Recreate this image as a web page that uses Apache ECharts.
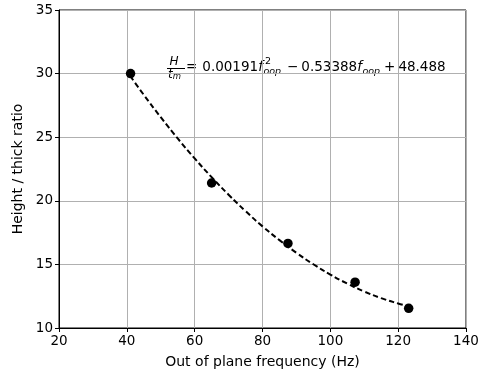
<!DOCTYPE html>
<html>
<head>
    <meta charset="UTF-8">
    <title>Height / thick ratio</title>
    <script src="https://cdn.jsdelivr.net/npm/echarts@6/dist/echarts.min.js"></script>
    <style>
        html, body { margin: 0; padding: 0; background: #fff; }
        #main { width: 485px; height: 376px; }
    </style>
</head>
<body>
    <div id="main"></div>
    <script type="text/javascript">
        // measured points
        var freqs = [41.1, 65.0, 87.5, 107.3, 123.1];
        var ratios = [30.0, 21.4, 16.65, 13.6, 11.55];

        // dashed fit curve
        var fitFreqs = [41, 45, 50, 55, 60, 65, 70, 75, 80, 85, 90, 95, 100, 105, 110, 115, 120, 123];
        var fitRatios = [29.81, 28.33, 26.57, 24.90, 23.33, 21.86, 20.48, 19.19, 17.99, 16.91, 15.91, 15.01, 14.20, 13.49, 12.87, 12.35, 11.93, 11.72];

        var xTicks = [20, 40, 60, 80, 100, 120, 140];
        var yTicks = [10, 15, 20, 25, 30, 35];

        var FONT = '"DejaVu Sans", sans-serif';

        var pts = [];
        for (var i = 0; i < freqs.length; i++) pts.push([freqs[i], ratios[i]]);
        var fit = [];
        for (var j = 0; j < fitFreqs.length; j++) fit.push([fitFreqs[j], fitRatios[j]]);

        // equation label, laid out piece by piece
        var cv = document.createElement('canvas').getContext('2d');
        function w(txt, font) { cv.font = font; return cv.measureText(txt).width; }
        var eq = [];
        function piece(txt, x, y, size, italic) {
            var f = (italic ? 'italic ' : '') + size + 'px ' + FONT;
            eq.push({
                type: 'text', silent: true,
                style: { text: txt, x: x, y: y, font: f, fill: '#000', align: 'left', verticalAlign: 'middle' }
            });
            return w(txt, f);
        }
        var cx = 167, midY = 67;
        // fraction H / t_m
        eq.push({ type: 'line', silent: true, shape: { x1: cx, y1: 68.5, x2: cx + 18, y2: 68.5 }, style: { stroke: '#000', lineWidth: 1 } });
        piece('H', cx + 2.5, 61.5, 12, true);
        var tw = piece('t', cx + 1, 74.5, 12, true);
        piece('m', cx + 1 + tw, 77, 8.5, true);
        cx += 19;
        cx += piece('=', cx, midY, 13.5, false) + 5;
        cx += piece('0.00191', cx, midY, 13.5, false);
        cx += piece('f', cx, midY, 13.5, true) + 0.5;
        piece('2', cx + 1.5, 61.5, 9.5, false);
        cx += piece('oop', cx, 71.5, 9.5, true) + 6;
        cx += piece('\u2212', cx, midY, 13.5, false) + 3;
        cx += piece('0.53388', cx, midY, 13.5, false);
        cx += piece('f', cx, midY, 13.5, true) + 0.5;
        cx += piece('oop', cx, 71.5, 9.5, true) + 4;
        cx += piece('+', cx, midY, 13.5, false) + 3;
        piece('48.488', cx, midY, 13.5, false);

        var myChart = echarts.init(document.getElementById('main'));

        var option = {
            animation: false,
            backgroundColor: '#fff',
            grid: {
                left: 59, right: 19, top: 10, bottom: 48,
                show: true, borderColor: '#000', borderWidth: 1
            },
            xAxis: {
                type: 'value',
                min: xTicks[0], max: xTicks[xTicks.length - 1], interval: 20,
                name: 'Out of plane frequency (Hz)',
                nameLocation: 'middle', nameGap: 27,
                nameTextStyle: { fontFamily: FONT, fontSize: 14, color: '#000' },
                axisLine: { lineStyle: { color: '#000', width: 1 } },
                axisTick: { show: true, length: 4, lineStyle: { color: '#000' } },
                axisLabel: { fontFamily: FONT, fontSize: 13.5, color: '#000', margin: 6 },
                splitLine: { show: true, lineStyle: { color: '#b0b0b0', width: 1 } }
            },
            yAxis: {
                type: 'value',
                min: yTicks[0], max: yTicks[yTicks.length - 1], interval: 5,
                name: 'Height / thick ratio',
                nameLocation: 'middle', nameGap: 32,
                nameTextStyle: { fontFamily: FONT, fontSize: 14, color: '#000' },
                axisLine: { lineStyle: { color: '#000', width: 1 } },
                axisTick: { show: true, length: 4, lineStyle: { color: '#000' } },
                axisLabel: { fontFamily: FONT, fontSize: 13.5, color: '#000', margin: 6 },
                splitLine: { show: true, lineStyle: { color: '#b0b0b0', width: 1 } }
            },
            series: [
                {
                    name: 'fit',
                    type: 'line',
                    data: fit,
                    smooth: true,
                    showSymbol: false,
                    lineStyle: { color: '#000', width: 2, type: [5.5, 3] },
                    z: 2
                },
                {
                    name: 'data',
                    type: 'scatter',
                    data: pts,
                    symbolSize: 9.5,
                    itemStyle: { color: '#000', opacity: 1 },
                    z: 3
                }
            ],
            graphic: eq
        };

        myChart.setOption(option);
    </script>
</body>
</html>
